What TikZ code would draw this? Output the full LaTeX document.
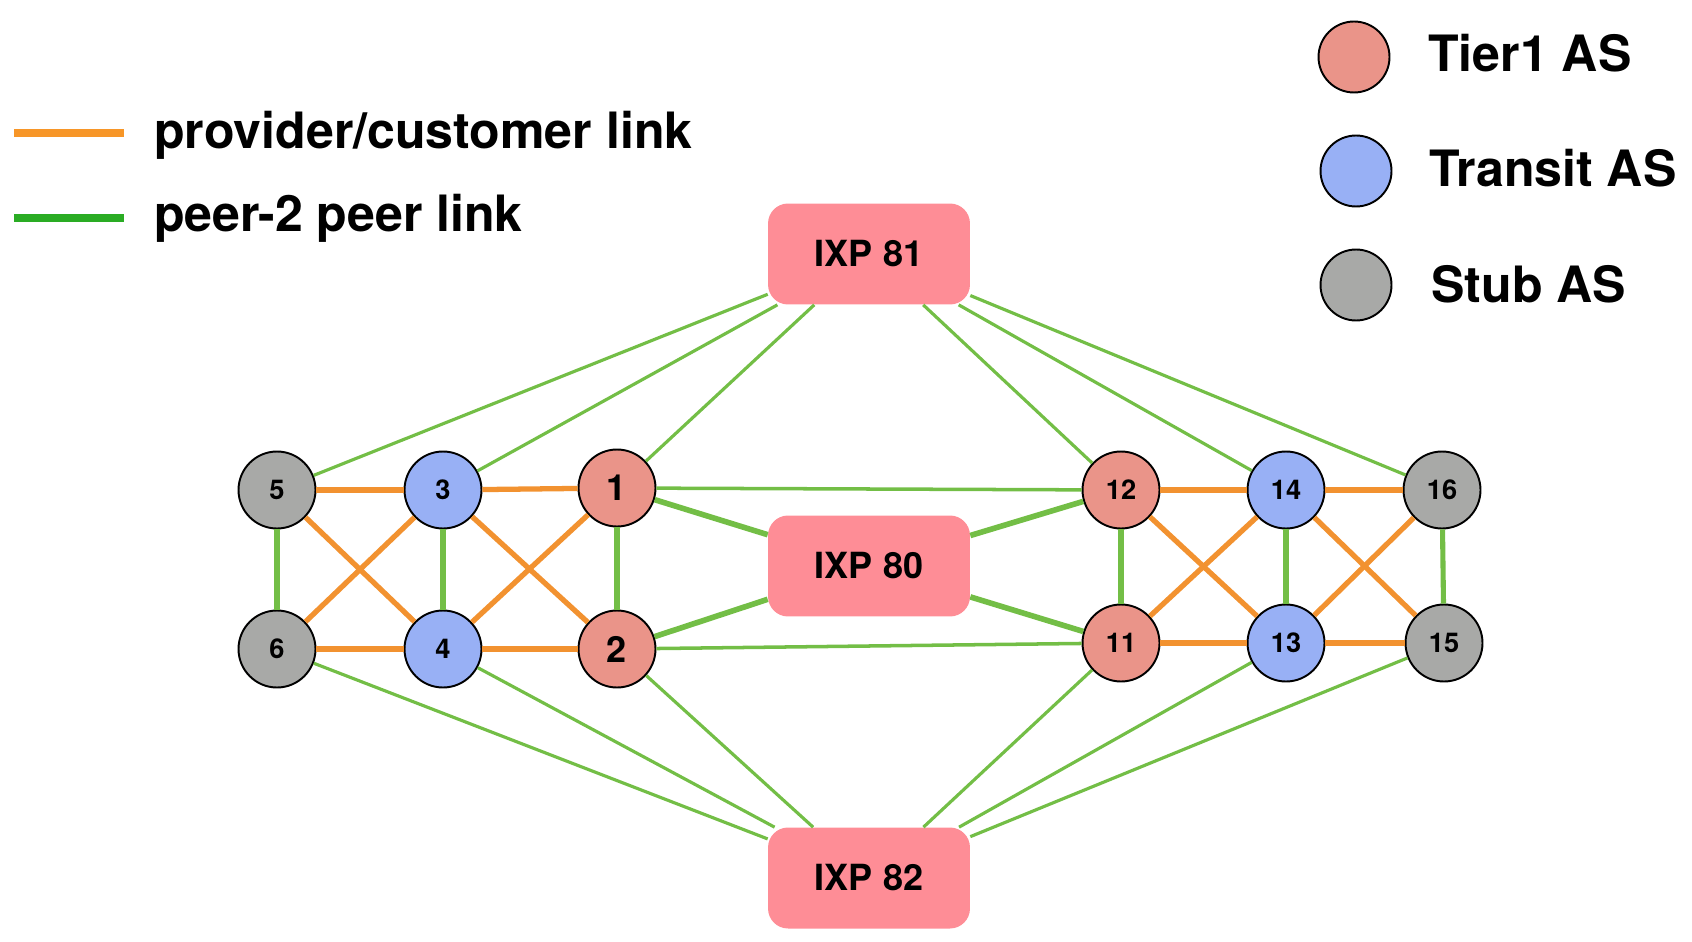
\documentclass[tikz,border=0pt]{standalone}
\usepackage{fontspec}
\setmainfont{TeX Gyre Heros}

\definecolor{tiercol}{RGB}{234,148,137}
\definecolor{transcol}{RGB}{152,176,245}
\definecolor{stubcol}{RGB}{168,169,167}
\definecolor{ixpcol}{RGB}{254,141,150}
\definecolor{pccol}{RGB}{242,146,48}
\definecolor{ppcol}{RGB}{115,190,70}
\definecolor{legpc}{RGB}{247,150,40}
\definecolor{legpp}{RGB}{42,172,36}

\begin{document}
\begin{tikzpicture}[x=0.02cm, y=-0.02cm,
  as/.style={draw, circle, line width=1.1pt, inner sep=0pt, minimum size=1.54cm,
    font=\fontsize{15.5}{18}\selectfont\bfseries},
  big/.style={font=\fontsize{20.5}{24}\selectfont\bfseries},
  tier/.style={as, fill=tiercol},
  transit/.style={as, fill=transcol},
  stub/.style={as, fill=stubcol},
  ixp/.style={fill=ixpcol, rounded corners=0.4cm, minimum width=4.04cm,
    minimum height=2.02cm, font=\fontsize{20.5}{24}\selectfont\bfseries},
  legdot/.style={draw, circle, line width=1.1pt, minimum size=1.42cm},
  legtext/.style={anchor=base west, inner sep=0pt,
    font=\fontsize{28.5}{34}\selectfont\bfseries},
  pc/.style={draw=pccol, line width=3pt},
  pp/.style={draw=ppcol, line width=1.8pt},
  ppv/.style={draw=ppcol, line width=2.9pt},
  ppx/.style={draw=ppcol, line width=3.2pt}]

  \useasboundingbox (0,0) rectangle (1692,942);

  % coordinates
  \coordinate (pcL) at (14,133);
  \coordinate (pcR) at (124,133);
  \coordinate (ppL) at (14,218);
  \coordinate (ppR) at (124,218);

  % legend
  \draw[legpc, line width=4.5pt] (pcL) -- (pcR);
  \draw[legpp, line width=4.5pt] (ppL) -- (ppR);
  \node[legtext] (tpc) at (154,149) {provider/customer link};
  \node[legtext] (tpp) at (154,232) {peer-2 peer link};

  \node[legdot, fill=tiercol] (ltier) at (1354,57) {};
  \node[legdot, fill=transcol] (ltrans) at (1356,171) {};
  \node[legdot, fill=stubcol] (lstub) at (1356,285) {};
  \node[legtext] (ttier) at (1428,72) {Tier1 AS};
  \node[legtext] (ttrans) at (1429,187) {Transit AS};
  \node[legtext] (tstub) at (1431,302) {Stub AS};

  % exchange points
  \node[ixp] (x81) at (869,254) {IXP 81};
  \node[ixp] (x80) at (869,566) {IXP 80};
  \node[ixp] (x82) at (869,878) {IXP 82};

  % autonomous systems
  \node[tier, big] (n1) at (617,488) {1};
  \node[tier, big] (n2) at (617,649) {2};
  \node[transit] (n3) at (443,490) {3};
  \node[transit] (n4) at (443,649) {4};
  \node[stub] (n5) at (277,490) {5};
  \node[stub] (n6) at (277,649) {6};
  \node[tier] (n12) at (1121,490) {12};
  \node[tier] (n11) at (1121,643) {11};
  \node[transit] (n14) at (1286,490) {14};
  \node[transit] (n13) at (1286,643) {13};
  \node[stub] (n16) at (1442,490) {16};
  \node[stub] (n15) at (1444,643) {15};

  % provider/customer links
  \foreach \a/\b in {n5/n3, n3/n1, n6/n4, n4/n2, n5/n4, n3/n6, n3/n2, n1/n4,
      n12/n14, n14/n16, n11/n13, n13/n15, n12/n13, n14/n11, n14/n15, n16/n13}
    \draw[pc] (\a) -- (\b);

  % peer links
  \foreach \a/\b in {n5/n6, n3/n4, n1/n2, n12/n11, n14/n13, n16/n15}
    \draw[ppv] (\a) -- (\b);
  \foreach \a in {n1, n2, n12, n11}
    \draw[ppx] (\a) -- (x80);
  \foreach \a in {n5, n3, n1, n12, n14, n16}
    \draw[pp] (\a) -- (x81);
  \foreach \a in {n6, n4, n2, n11, n13, n15}
    \draw[pp] (\a) -- (x82);
  \draw[pp, line width=2pt] (n1) -- (n12);
  \draw[pp, line width=2pt] (n2) -- (n11);
\end{tikzpicture}
\end{document}
